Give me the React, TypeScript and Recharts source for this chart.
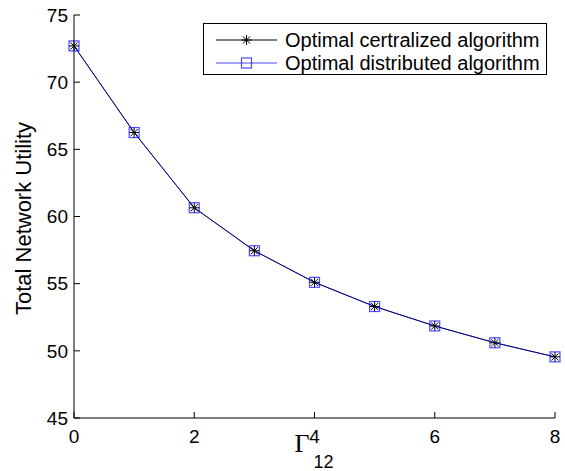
import React from 'react';
import { LineChart, Line, XAxis, YAxis, Legend } from 'recharts';

const gammaValues = [0, 1, 2, 3, 4, 5, 6, 7, 8];
const centralizedUtility = [72.7, 66.25, 60.65, 57.45, 55.1, 53.3, 51.85, 50.6, 49.55];
const distributedUtility = [72.7, 66.25, 60.65, 57.45, 55.1, 53.3, 51.85, 50.6, 49.55];
const xTicks = [0, 2, 4, 6, 8];
const yTicks = [45, 50, 55, 60, 65, 70, 75];
const seriesNames = ['Optimal certralized algorithm', 'Optimal distributed algorithm'];

const data = gammaValues.map((g, i) => ({
  g,
  central: centralizedUtility[i],
  distributed: distributedUtility[i],
}));

const FONT = '"Liberation Sans", Arial, Helvetica, sans-serif';
const BLUE = '#0000ff';

const Asterisk = ({ cx, cy, r = 5 }: any) => {
  const d = r * 0.72;
  return (
    <g stroke="#000" strokeWidth={1} fill="none">
      <line x1={cx} y1={cy - r} x2={cx} y2={cy + r} />
      <line x1={cx - r} y1={cy} x2={cx + r} y2={cy} />
      <line x1={cx - d} y1={cy - d} x2={cx + d} y2={cy + d} />
      <line x1={cx - d} y1={cy + d} x2={cx + d} y2={cy - d} />
    </g>
  );
};

const Square = ({ cx, cy, r = 5 }: any) => (
  <rect x={cx - r} y={cy - r} width={2 * r} height={2 * r} fill="none" stroke={BLUE} strokeOpacity={0.7} strokeWidth={1.2} />
);

const renderAsterisk = (p: any) => <Asterisk key={`a-${p.index}`} cx={p.cx} cy={p.cy} />;
const renderSquare = (p: any) => <Square key={`s-${p.index}`} cx={p.cx} cy={p.cy} />;

const LegendBox = (props: any) => {
  const payload = props.payload || [];
  return (
    <svg width={344} height={52} style={{ display: 'block' }}>
      <rect x={0.5} y={0.5} width={343} height={51} fill="#fff" stroke="#000" strokeWidth={1} />
      {payload.map((item: any, i: number) => {
        const cy = 17 + i * 23;
        const isFirst = item.dataKey === 'central';
        return (
          <g key={i}>
            <line x1={13} y1={cy} x2={74} y2={cy} stroke={isFirst ? '#000' : BLUE} strokeOpacity={isFirst ? 1 : 0.7} strokeWidth={1} />
            {isFirst ? <Asterisk cx={43.5} cy={cy} /> : <Square cx={43.5} cy={cy} />}
            <text x={82} y={cy} dominantBaseline="central" fontFamily={FONT} fontSize={20} fill="#000">
              {item.value}
            </text>
          </g>
        );
      })}
    </svg>
  );
};

const YLabel = (props: any) => {
  const vb = props.viewBox || {};
  const cx = vb.x + 31;
  const cy = vb.y + vb.height / 2 + 2;
  return (
    <text x={cx} y={cy} transform={`rotate(-90, ${cx}, ${cy})`} textAnchor="middle" fontFamily={FONT} fontSize={22} fill="#000">
      Total Network Utility
    </text>
  );
};

const XLabel = (props: any) => {
  const vb = props.viewBox || {};
  const cx = vb.x + vb.width / 2;
  const top = vb.y;
  return (
    <g>
      <text x={cx - 20} y={top + 34} fontFamily='"Liberation Serif", "Times New Roman", serif' fontSize={26} fill="#000">
        Γ
      </text>
      <text x={cx - 1} y={top + 50} fontFamily={FONT} fontSize={18} fill="#000">
        12
      </text>
    </g>
  );
};

const tickStyle = { fontFamily: FONT, fontSize: 19, fill: '#000' };
const noTick = () => <g />;

export default function App() {
  return (
    <div style={{ position: 'absolute', left: 0, top: 0, width: 565, height: 471, background: '#fff' }}>
      <LineChart width={565} height={471} data={data} margin={{ top: 15, right: 10, bottom: 0, left: 0 }}>
        <XAxis
          dataKey="g"
          type="number"
          domain={[0, 8]}
          ticks={xTicks}
          interval={0}
          height={53}
          tickSize={-6}
          tickMargin={18}
          tick={tickStyle}
          axisLine={{ stroke: '#000', strokeWidth: 1 }}
          tickLine={{ stroke: '#000' }}
          label={<XLabel />}
        />
        <XAxis
          xAxisId="top"
          orientation="top"
          dataKey="g"
          type="number"
          domain={[0, 8]}
          ticks={xTicks}
          interval={0}
          height={0}
          tickSize={-6}
          tick={noTick}
          axisLine={{ stroke: '#000', strokeWidth: 1 }}
          tickLine={{ stroke: '#000' }}
        />
        <YAxis
          type="number"
          domain={[45, 75]}
          ticks={yTicks}
          interval={0}
          width={74}
          tickSize={-6}
          tickMargin={12}
          tick={tickStyle}
          axisLine={{ stroke: '#000', strokeWidth: 1 }}
          tickLine={{ stroke: '#000' }}
          label={<YLabel />}
        />
        <YAxis
          yAxisId="right"
          orientation="right"
          type="number"
          domain={[45, 75]}
          ticks={yTicks}
          interval={0}
          width={0}
          tickSize={-6}
          tick={noTick}
          axisLine={{ stroke: '#000', strokeWidth: 1 }}
          tickLine={{ stroke: '#000' }}
        />
        <Legend
          layout="vertical"
          align="center"
          verticalAlign="middle"
          content={<LegendBox />}
          wrapperStyle={{ position: 'absolute', left: 203, top: 23, width: 344, height: 52 }}
        />
        <Line
          dataKey="central"
          name={seriesNames[0]}
          stroke="#000"
          strokeWidth={1}
          dot={renderAsterisk}
          activeDot={false}
          isAnimationActive={false}
        />
        <Line
          dataKey="distributed"
          name={seriesNames[1]}
          stroke={BLUE}
          strokeOpacity={0.6}
          strokeWidth={1}
          dot={renderSquare}
          activeDot={false}
          isAnimationActive={false}
        />
      </LineChart>
    </div>
  );
}
